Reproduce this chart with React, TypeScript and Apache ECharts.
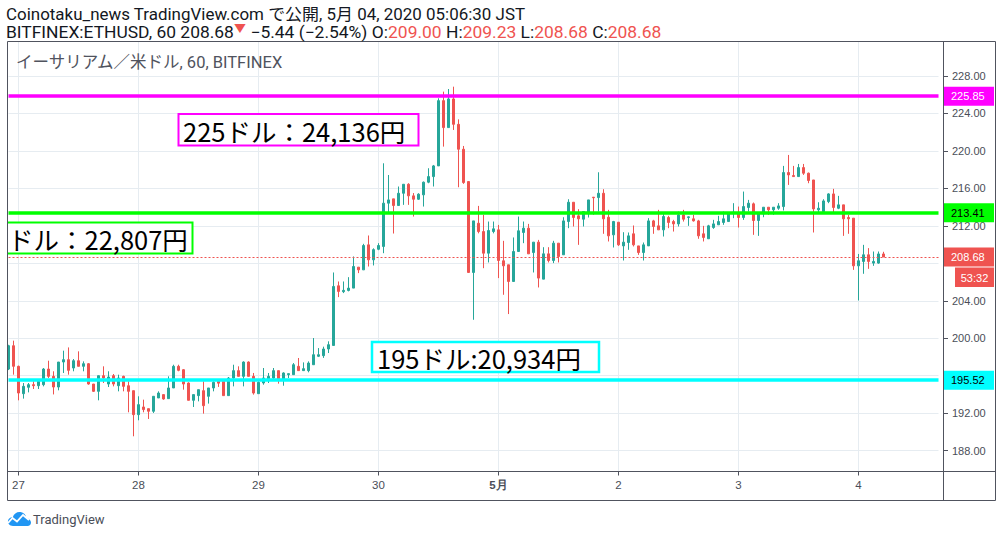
import React, { useEffect, useRef } from "react";
import * as echarts from "echarts";

// ---------- data (hourly candles, JST, first = 26 Apr 22:00) ----------
const opens = [
  196.71, 199.2, 197.0, 194.08, 194.76, 195.04, 194.93, 195.04, 196.71, 195.93,
  194.79, 197.46, 197.71, 196.82, 197.6, 197.0, 197.28, 195.11, 194.33, 196.0,
  195.11, 196.0, 194.93, 195.93, 194.93, 194.4, 191.84, 192.66, 192.48, 192.2,
  193.62, 193.98, 193.55, 194.69, 197.0, 196.64, 195.22, 193.37, 193.87, 194.4,
  193.8, 194.69, 195.4, 195.4, 193.87, 195.75, 196.54, 195.93, 197.46, 195.93,
  194.08, 195.22, 195.58, 195.75, 196.54, 195.58, 196.11, 196.11, 197.0, 196.54,
  196.54, 197.17, 198.07, 198.14, 198.85, 199.23, 205.6, 204.97, 205.1, 205.35,
  207.59, 207.3, 209.97, 208.37, 209.5, 209.8, 214.42, 214.88, 214.17, 215.48,
  216.44, 215.2, 214.84, 215.31, 216.66, 217.26, 218.4, 225.37, 222.49, 225.55,
  222.84, 220.18, 216.73, 207.02, 212.28, 211.39, 209.08, 211.39, 211.57, 208.27,
  207.84, 206.06, 209.26, 211.29, 211.75, 209.15, 210.26, 206.31, 209.01, 208.3,
  210.15, 208.91, 212.46, 214.52, 213.07, 212.71, 213.42, 215.06, 215.02, 215.48,
  212.92, 211.04, 212.39, 209.86, 210.22, 211.15, 209.86, 209.15, 209.86, 212.53,
  212.0, 211.57, 212.89, 212.46, 212.21, 213.17, 212.89, 212.75, 212.53, 211.15,
  210.62, 211.82, 212.11, 212.36, 212.46, 213.35, 213.42, 212.89, 213.96, 214.35,
  212.57, 213.28, 213.99, 213.71, 213.88, 214.06, 217.69, 217.37, 217.26, 218.22,
  217.62, 216.9, 213.71, 213.53, 214.59, 215.41, 213.88, 214.24, 212.89, 212.82,
  207.73, 208.2, 208.91, 208.02, 208.02, 209.0,
];
const closes = [
  199.2, 197.0, 194.15, 194.86, 195.04, 194.93, 195.4, 196.71, 195.93, 194.79,
  197.46, 197.71, 196.57, 197.6, 197.0, 197.28, 195.11, 194.33, 196.0, 195.75,
  195.86, 195.11, 195.75, 194.86, 194.33, 191.84, 192.91, 192.38, 192.2, 193.8,
  194.15, 193.51, 194.69, 197.0, 196.57, 195.11, 193.37, 193.98, 194.51, 192.8,
  194.69, 195.29, 195.2, 193.87, 195.75, 196.54, 195.93, 197.46, 195.93, 194.15,
  195.29, 195.75, 195.93, 196.54, 195.58, 196.29, 196.22, 197.17, 196.54, 196.75,
  197.35, 198.24, 198.24, 198.85, 199.31, 205.53, 205.0, 205.11, 205.35, 207.66,
  207.3, 209.9, 208.37, 209.46, 209.9, 214.42, 214.77, 214.17, 215.48, 216.44,
  215.2, 214.84, 215.38, 216.66, 217.26, 218.4, 225.37, 222.49, 225.55, 222.84,
  220.18, 216.62, 207.02, 212.53, 211.39, 209.08, 211.5, 211.68, 208.3, 207.73,
  206.06, 209.26, 211.47, 211.75, 209.01, 210.26, 206.42, 209.01, 208.3, 210.15,
  208.73, 212.53, 214.52, 212.89, 212.75, 213.53, 214.77, 215.0, 215.48, 212.75,
  210.93, 212.46, 209.97, 210.26, 210.93, 209.97, 209.15, 209.97, 212.53, 211.93,
  211.57, 213.0, 212.36, 212.21, 213.17, 212.71, 212.96, 212.53, 210.93, 210.76,
  212.0, 212.21, 212.46, 212.75, 213.35, 213.46, 212.89, 214.06, 214.42, 212.57,
  213.35, 213.99, 213.71, 213.99, 214.13, 217.69, 217.44, 217.26, 218.22, 217.62,
  216.84, 213.81, 213.88, 214.66, 215.41, 213.96, 214.24, 212.75, 212.75, 207.73,
  208.27, 208.91, 208.2, 208.2, 209.0, 208.68,
];
const lows = [
  196.6, 196.11, 193.37, 193.55, 194.22, 194.58, 194.58, 194.86, 195.75, 194.0,
  194.44, 196.29, 196.11, 196.47, 197.0, 196.47, 195.04, 194.26, 193.37, 195.22,
  194.79, 194.86, 194.33, 194.33, 192.09, 189.53, 191.24, 192.09, 191.38, 192.02,
  193.62, 193.44, 193.55, 194.69, 196.47, 194.51, 193.37, 192.66, 193.26, 191.95,
  193.02, 194.33, 194.8, 193.87, 193.87, 194.86, 195.93, 194.86, 195.93, 193.98,
  194.08, 195.04, 195.22, 195.58, 195.15, 194.93, 195.75, 196.11, 196.54, 196.54,
  196.36, 197.17, 197.99, 197.9, 198.42, 199.23, 204.39, 204.82, 205.0, 205.35,
  206.95, 207.3, 207.66, 207.77, 209.4, 209.08, 213.35, 211.18, 214.17, 214.24,
  214.24, 212.99, 214.77, 214.06, 216.55, 216.2, 218.4, 220.46, 222.49, 222.24,
  216.12, 216.48, 207.02, 201.97, 211.2, 207.48, 208.09, 211.2, 206.42, 204.64,
  202.58, 206.06, 209.26, 210.15, 209.01, 207.02, 205.42, 206.31, 208.09, 208.02,
  208.09, 208.91, 211.75, 211.93, 209.97, 211.93, 212.89, 213.17, 213.53, 211.15,
  210.33, 209.69, 209.86, 208.3, 209.44, 209.8, 208.9, 208.3, 209.86, 211.15,
  211.57, 210.86, 211.75, 211.39, 211.93, 212.46, 212.0, 212.46, 210.62, 210.33,
  210.62, 211.68, 212.11, 212.11, 212.46, 212.82, 211.82, 212.64, 213.53, 211.04,
  210.93, 212.92, 213.17, 213.17, 213.71, 213.64, 216.37, 217.26, 217.26, 217.44,
  216.55, 211.29, 213.28, 213.42, 214.42, 213.42, 213.78, 210.93, 211.15, 207.3,
  204.03, 206.88, 207.41, 207.73, 207.95, 208.68,
];
const highs = [
  199.3, 199.74, 197.07, 195.22, 195.22, 195.4, 195.58, 196.82, 197.6, 196.47,
  197.46, 198.67, 199.02, 197.78, 198.6, 197.53, 197.35, 195.11, 196.0, 197.0,
  196.47, 196.18, 196.11, 196.0, 195.4, 194.4, 193.8, 193.44, 192.48, 193.8,
  194.33, 193.98, 195.93, 197.17, 197.17, 196.71, 195.29, 193.98, 194.51, 195.4,
  194.69, 195.4, 195.4, 195.4, 195.86, 197.17, 197.0, 197.53, 197.53, 196.29,
  195.4, 196.82, 196.29, 196.82, 196.54, 196.36, 196.22, 197.35, 197.89, 197.42,
  197.53, 200.02, 198.95, 199.1, 199.67, 207.02, 206.06, 206.06, 206.52, 208.73,
  207.59, 210.08, 210.97, 209.6, 210.15, 218.68, 217.43, 214.88, 216.2, 216.44,
  216.55, 215.5, 215.48, 216.73, 218.15, 218.5, 225.62, 226.33, 226.61, 226.86,
  223.37, 220.53, 216.73, 212.53, 214.13, 213.17, 212.46, 212.46, 212.1, 210.4,
  207.84, 210.76, 212.99, 212.46, 212.21, 210.26, 210.5, 209.72, 209.72, 210.4,
  210.15, 212.92, 214.84, 214.52, 213.78, 213.53, 214.77, 215.06, 217.72, 215.91,
  213.71, 212.53, 212.39, 211.32, 211.29, 212.04, 209.86, 210.22, 212.82, 212.64,
  213.71, 213.28, 213.07, 212.64, 213.53, 213.71, 213.0, 213.17, 212.64, 212.0,
  212.11, 212.64, 213.07, 213.53, 213.42, 214.42, 214.06, 215.66, 214.77, 214.49,
  213.35, 213.99, 213.99, 213.99, 214.42, 218.4, 219.57, 218.4, 218.61, 218.61,
  217.69, 216.9, 214.52, 214.84, 215.48, 215.95, 215.2, 214.24, 213.17, 212.82,
  209.0, 209.97, 209.62, 209.26, 209.26, 209.23,
];

const SLOT_COUNT = 187; // candles + empty space on the right
const FIRST_HOUR = 22; // first candle: 26 Apr 22:00
const DAYS = [
  { m: 4, d: 26, label: "26" },
  { m: 4, d: 27, label: "27" },
  { m: 4, d: 28, label: "28" },
  { m: 4, d: 29, label: "29" },
  { m: 4, d: 30, label: "30" },
  { m: 5, d: 1, label: "5月" },
  { m: 5, d: 2, label: "2" },
  { m: 5, d: 3, label: "3" },
  { m: 5, d: 4, label: "4" },
  { m: 5, d: 5, label: "5" },
];
const yTicks = [188, 192, 196, 200, 204, 208, 212, 216, 220, 224, 228];
// tick labels that are not hidden behind the price boxes on the axis
const yTickLabels = [188, 192, 200, 204, 212, 216, 220, 224, 228];
const Y_MIN = 185.77;
const Y_MAX = 231.63;

const magentaLevel = 225.85;
const greenLevel = 213.41;
const cyanLevel = 195.52;
const lastPrice = 208.68;
const countdown = "53:32";

const headerLine1 = "Coinotaku_news TradingView.com で公開, 5月 04, 2020 05:06:30 JST";
const symbolTitle = "イーサリアム／米ドル, 60, BITFINEX";
const noteMagenta = "225ドル：24,136円";
const noteGreen = "ドル：22,807円";
const noteCyan = "195ドル:20,934円";

const UP = "#26a69a";
const DOWN = "#ef5350";
const FRAME = "#50535e";
const GRID = "#e6ecf1";

const categories = Array.from({ length: SLOT_COUNT }, (_, i) => {
  const t = FIRST_HOUR + i;
  const day = DAYS[Math.floor(t / 24)];
  const h = t % 24;
  return `${day.m}/${day.d} ${String(h).padStart(2, "0")}:00`;
});
const isDayStart = (i: number) => (FIRST_HOUR + i) % 24 === 0;
const dayLabelOf = (cat: string) => {
  const [md] = cat.split(" ");
  const [m, d] = md.split("/").map(Number);
  const day = DAYS.find((x) => x.m === m && x.d === d);
  return day ? day.label : "";
};

const candleData = opens.map((o, i) => [o, closes[i], lows[i], highs[i]]);

echarts.graphic.registerShape(
  "tvcloud",
  echarts.graphic.extendPath(
    "M6 16 C2.5 16 0.5 13.5 1 10.8 C1.5 8.4 3.6 7 5.8 7.3 C6.8 3.6 10 1.5 13.6 2 C16.8 2.5 19 5 19.3 8 C21.8 8.2 24 10.2 24 12.6 C24 14.6 22.6 16 20.6 16 Z",
    {}
  )
);

function buildOption(): any {
  const fontUI = "Roboto, 'Noto Sans CJK JP', sans-serif";
  const axisFont = "'Liberation Sans', Arial, sans-serif";
  const priceLabel = (bg: string, fg: string, text: string) => ({
    show: true,
    position: "end",
    distance: 4.5,
    formatter: text,
    backgroundColor: bg,
    color: fg,
    fontSize: 11,
    fontFamily: axisFont,
    padding: [3, 8, 3, 8],
    width: 35,
    height: 13,
    lineHeight: 13,
    align: "left",
  });

  return {
    animation: false,
    backgroundColor: "#ffffff",
    grid: { left: 8.5, right: 63.5, top: 42, bottom: 65.5, containLabel: false },
    xAxis: {
      type: "category",
      data: categories,
      boundaryGap: false,
      axisLine: { show: false },
      axisTick: {
        show: true,
        interval: (i: number) => isDayStart(i),
        length: 4,
        lineStyle: { color: FRAME },
      },
      axisLabel: {
        interval: (i: number) => isDayStart(i),
        formatter: (v: string) => {
          const l = dayLabelOf(v);
          return l === "5月" ? `{b|${l}}` : l;
        },
        margin: 7,
        fontSize: 11.5,
        color: "#4a4e58",
        fontFamily: axisFont,
        rich: { b: { fontWeight: "bold", fontSize: 11.5, color: "#4a4e58" } },
      },
      splitLine: {
        show: true,
        interval: (i: number) => isDayStart(i),
        lineStyle: { color: GRID, width: 1 },
      },
    },
    yAxis: {
      type: "value",
      position: "right",
      min: Y_MIN,
      max: Y_MAX,
      offset: 4.5,
      axisLine: { show: false },
      axisTick: {
        show: true,
        length: 5,
        customValues: yTicks,
        lineStyle: { color: FRAME },
      },
      axisLabel: {
        customValues: yTickLabels,
        formatter: (v: number) => v.toFixed(2),
        margin: 9,
        fontSize: 11,
        color: "#4a4e58",
        fontFamily: axisFont,
      },
      splitLine: { show: true, lineStyle: { color: GRID, width: 1 } },
    },
    series: [
      {
        type: "candlestick",
        data: candleData,
        barWidth: 2,
        clip: false,
        itemStyle: {
          color: UP,
          color0: DOWN,
          borderColor: UP,
          borderColor0: DOWN,
          borderWidth: 1,
        },
        markLine: {
          silent: true,
          symbol: ["none", "none"],
          animation: false,
          data: [
            {
              yAxis: lastPrice,
              lineStyle: { color: DOWN, width: 1, type: [2, 2] },
              label: priceLabel(DOWN, "#ffffff", lastPrice.toFixed(2)),
            },
            {
              yAxis: magentaLevel,
              lineStyle: { color: "#ff00ff", width: 3.5, type: "solid" },
              label: priceLabel("#ff00ff", "#ffffff", magentaLevel.toFixed(2)),
            },
            {
              yAxis: greenLevel,
              lineStyle: { color: "#00ff00", width: 3.5, type: "solid" },
              label: priceLabel("#00ff00", "#000000", greenLevel.toFixed(2)),
            },
            {
              yAxis: cyanLevel,
              lineStyle: { color: "#00ffff", width: 3.5, type: "solid" },
              label: priceLabel("#00ffff", "#000000", cyanLevel.toFixed(2)),
            },
          ],
        },
      },
    ],
    graphic: [
      // frame
      {
        type: "rect",
        z: 100,
        silent: true,
        shape: { x: 7.5, y: 41.5, width: 988, height: 459 },
        style: { fill: "none", stroke: FRAME, lineWidth: 1 },
      },
      {
        type: "line",
        z: 100,
        silent: true,
        shape: { x1: 943.5, y1: 41.5, x2: 943.5, y2: 500.5 },
        style: { stroke: FRAME, lineWidth: 1 },
      },
      {
        type: "line",
        z: 100,
        silent: true,
        shape: { x1: 7.5, y1: 471.5, x2: 995.5, y2: 471.5 },
        style: { stroke: FRAME, lineWidth: 1 },
      },
      // countdown box
      {
        type: "rect",
        z: 110,
        silent: true,
        shape: { x: 955, y: 267.5, width: 39, height: 19.5 },
        style: { fill: DOWN },
      },
      {
        type: "text",
        z: 111,
        silent: true,
        x: 974.5,
        y: 277.5,
        style: {
          text: countdown,
          fill: "#ffffff",
          fontSize: 11,
          fontFamily: axisFont,
          align: "center",
          verticalAlign: "middle",
        },
      },
      // header
      {
        type: "text",
        z: 100,
        x: 6,
        y: 14.5,
        scaleX: 1.06,
        style: {
          text: headerLine1,
          fill: "#131722",
          fontSize: 16,
          fontFamily: fontUI,
          verticalAlign: "middle",
        },
      },
      {
        type: "text",
        z: 100,
        x: 6,
        y: 32,
        scaleX: 1.09,
        style: {
          text:
            "{k|BITFINEX:ETHUSD, 60 208.68}{t|▼}{k| −5.44 (−2.54%) O:}{r|209.00}{k| H:}{r|209.23}{k| L:}{r|208.68}{k| C:}{r|208.68}",
          verticalAlign: "middle",
          rich: {
            k: { fill: "#131722", fontSize: 16, fontFamily: fontUI },
            r: { fill: DOWN, fontSize: 16, fontFamily: fontUI },
            t: { fill: DOWN, fontSize: 11, fontFamily: fontUI, verticalAlign: "top" },
          },
        },
      },
      {
        type: "text",
        z: 100,
        x: 16,
        y: 62,
        style: {
          text: symbolTitle,
          fill: "#50535e",
          fontSize: 16.5,
          fontFamily: fontUI,
          verticalAlign: "middle",
        },
      },
      // annotation: magenta
      {
        type: "rect",
        z: 105,
        silent: true,
        shape: { x: 178.5, y: 114, width: 240, height: 31.5 },
        style: { fill: "#ffffff", stroke: "#ff00ff", lineWidth: 2 },
      },
      {
        type: "text",
        z: 106,
        x: 183,
        y: 130,
        style: {
          text: noteMagenta,
          fill: "#000000",
          fontSize: 25.5,
          fontFamily: "'Noto Sans CJK JP', sans-serif",
          verticalAlign: "middle",
        },
      },
      // annotation: green (left part clipped by the frame)
      {
        type: "rect",
        z: 105,
        silent: true,
        shape: { x: 8, y: 222.5, width: 184.5, height: 31 },
        style: { fill: "#ffffff" },
      },
      {
        type: "polyline",
        z: 106,
        silent: true,
        shape: { points: [[8, 222.5], [192.5, 222.5], [192.5, 253.5], [8, 253.5]] },
        style: { fill: "none", stroke: "#00ff00", lineWidth: 2 },
      },
      {
        type: "text",
        z: 106,
        x: 8,
        y: 238,
        style: {
          text: noteGreen,
          fill: "#000000",
          fontSize: 25.5,
          fontFamily: "'Noto Sans CJK JP', sans-serif",
          verticalAlign: "middle",
        },
      },
      // annotation: cyan
      {
        type: "rect",
        z: 105,
        silent: true,
        shape: { x: 372, y: 342, width: 227, height: 30 },
        style: { fill: "#ffffff", stroke: "#00ffff", lineWidth: 2.5 },
      },
      {
        type: "text",
        z: 106,
        x: 377,
        y: 357,
        style: {
          text: noteCyan,
          fill: "#000000",
          fontSize: 25.5,
          fontFamily: "'Noto Sans CJK JP', sans-serif",
          verticalAlign: "middle",
        },
      },
      // TradingView logo
      {
        type: "tvcloud",
        z: 100,
        silent: true,
        x: 7,
        y: 510,
        scaleX: 1,
        scaleY: 1,
        style: { fill: "#2196f3" },
      },
      {
        type: "polyline",
        z: 101,
        silent: true,
        shape: { points: [[8, 523], [12.5, 518], [17, 521.5], [23, 515], [29, 520]] },
        style: { fill: "none", stroke: "#ffffff", lineWidth: 1.8 },
      },
      {
        type: "text",
        z: 100,
        x: 33,
        y: 519,
        style: {
          text: "TradingView",
          fill: "#4a4e58",
          fontSize: 13,
          fontFamily: "Roboto, sans-serif",
          verticalAlign: "middle",
        },
      },
    ],
  };
}

export default function App() {
  const ref = useRef<HTMLDivElement>(null);
  useEffect(() => {
    if (!ref.current) return;
    const chart = echarts.init(ref.current, undefined, { renderer: "svg" });
    chart.setOption(buildOption());
    return () => chart.dispose();
  }, []);
  return (
    <div
      style={{
        position: "fixed",
        left: 0,
        top: 0,
        width: 1002,
        height: 537,
        background: "#ffffff",
      }}
    >
      <div ref={ref} style={{ width: 1002, height: 537 }} />
    </div>
  );
}
